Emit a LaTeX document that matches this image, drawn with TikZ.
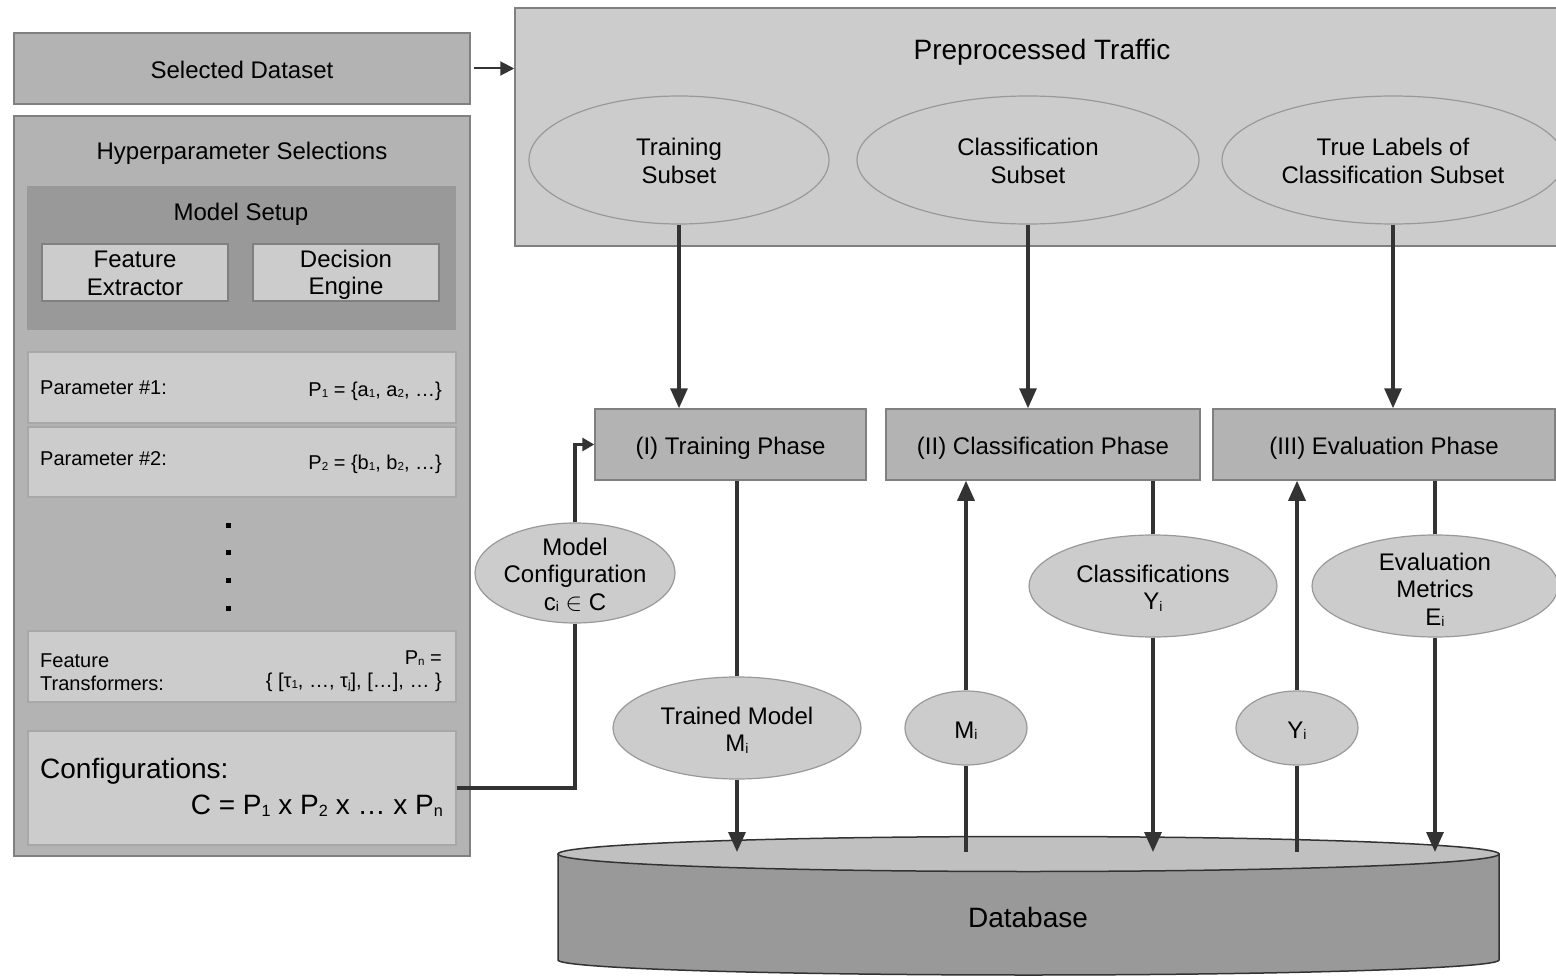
\documentclass[tikz,border=0pt]{standalone}
\usepackage{fontspec}
\usepackage{graphicx}
\setmainfont{Liberation Sans}
\usetikzlibrary{arrows.meta,shapes.geometric,calc}

\definecolor{boxdark}{HTML}{B3B3B3}
\definecolor{boxmid}{HTML}{999999}
\definecolor{boxlight}{HTML}{CCCCCC}
\definecolor{rim}{HTML}{808080}
\definecolor{rimsoft}{HTML}{A8A8A8}
\definecolor{wirec}{HTML}{333333}
\definecolor{dbface}{HTML}{C0C0C0}

% small, slightly lowered index
\newcommand\ix[1]{\raisebox{-0.06em}{\scalebox{0.58}{#1}}}

\tikzset{
  box/.style={draw=rim, line width=1.5pt, inner sep=0pt},
  darkbox/.style={box, fill=boxdark},
  lightbox/.style={box, fill=boxlight},
  parbox/.style={draw=rimsoft, line width=1.5pt, fill=boxlight, inner sep=0pt,
                 minimum width=428pt, minimum height=71pt},
  oval/.style={ellipse, draw=boxmid, line width=1.2pt, fill=boxlight, inner sep=0pt},
  lbl/.style={inner sep=0pt, yshift=-2.5pt},
  txt/.style={lbl, align=center, font=\fontsize{24}{27.5}\selectfont},
  small/.style={lbl, font=\fontsize{20}{23}\selectfont},
  big/.style={lbl, font=\fontsize{28}{32}\selectfont},
  wire/.style={draw=wirec, line width=3.2pt},
  flow/.style={wire, -{Triangle[length=20pt,width=17pt]}},
}

\begin{document}
\begin{tikzpicture}[x=1pt, y=-1pt]
\useasboundingbox (0,0) rectangle (1556,976);
\clip (0,0) rectangle (1556,976);

% ---- left column: dataset and hyperparameters ----
\node[darkbox, minimum width=456pt, minimum height=71pt] (sel) at (242,68.5) {};
\node[txt, yshift=1.5pt] at (sel) {Selected Dataset};

\node[darkbox, minimum width=456pt, minimum height=740pt] (hyp) at (242,486) {};
\node[txt] (hyptitle) at (242,151) {Hyperparameter Selections};

\node[fill=boxmid, inner sep=0pt, minimum width=429pt, minimum height=144pt] (setup) at (241.5,258) {};
\node[txt] (setuptitle) at (241,212) {Model Setup};
\node[lightbox, minimum width=186pt, minimum height=57pt] (fe) at (135,272.5) {};
\node[txt, yshift=1.5pt] at (fe) {Feature\\Extractor};
\node[lightbox, minimum width=186pt, minimum height=57pt] (de) at (346,272.5) {};
\node[txt] at (de) {Decision\\Engine};

\node[parbox] (p1) at (242,387.5) {};
\node[small, anchor=west] (p1l) at (40,385) {Parameter \#1:};
\node[small, anchor=east] (p1r) at (442,389) {P\ix{1} = \{a\ix{1}, a\ix{2}, …\}};

\node[parbox, minimum height=70pt] (p2) at (242,462) {};
\node[small, anchor=west] (p2l) at (40,456) {Parameter \#2:};
\node[small, anchor=east] (p2r) at (442,462) {P\ix{2} = \{b\ix{1}, b\ix{2}, …\}};

\foreach \yy in {525,552,580,608}
  \fill (225.5,{\yy-2.5}) rectangle ++(5,5);

\node[parbox] (pn) at (242,666.5) {};
\node[small, anchor=west, align=left] (pnl) at (40,669.5) {Feature\\Transformers:};
\node[small, anchor=east, align=right] (pnr) at (442,668.5)
  {P\ix{n} =\hspace{6pt}\\\{ [τ\ix{1}, …, τ\ix{j}], […], … \}};

\node[parbox, minimum height=114pt] (conf) at (242,788) {};
\node[big, anchor=west] (confl) at (40,769) {Configurations:};
\node[big, anchor=east] (confr) at (443,803)
  {C = P\ix{1} x P\ix{2} x … x P\ix{n}};

% ---- preprocessed traffic ----
\node[lightbox, minimum width=1055pt, minimum height=238pt] (pre) at (1042.5,127) {};
\node[big] (pretitle) at (1042,50) {Preprocessed Traffic};

\node[oval, minimum width=300pt, minimum height=128pt] (ts) at (679,160) {};
\node[txt, yshift=1.5pt] at (ts) {Training\\Subset};
\node[oval, minimum width=342pt, minimum height=128pt] (cs) at (1028,160) {};
\node[txt, yshift=1.5pt] at (cs) {Classification\\Subset};
\node[oval, minimum width=342pt, minimum height=128pt] (tl) at (1393,160) {};
\node[txt, yshift=1.5pt] at (tl) {True Labels of\\Classification Subset};

% ---- phases ----
\node[darkbox, minimum width=271pt, minimum height=71pt] (tp) at (730.5,444.5) {};
\node[txt, yshift=-1pt] at (tp) {(I) Training Phase};
\node[darkbox, minimum width=314pt, minimum height=71pt] (cp) at (1043,444.5) {};
\node[txt, yshift=-1pt] at (cp) {(II) Classification Phase};
\node[darkbox, minimum width=342pt, minimum height=71pt] (ep) at (1384,444.5) {};
\node[txt, yshift=-1pt] at (ep) {(III) Evaluation Phase};

% ---- intermediate results ----
\node[oval, minimum width=200pt, minimum height=100pt] (mc) at (575,573) {};
\node[txt, yshift=0.5pt] at (mc) {Model\\Configuration\\c\ix{i} $\in$ C};
\node[oval, minimum width=248pt, minimum height=102pt] (tm) at (737,728) {};
\node[txt, yshift=0.5pt] at (tm) {Trained Model\\M\ix{i}};
\node[oval, minimum width=122pt, minimum height=74pt] (mi) at (966,728) {};
\node[txt] at (mi) {M\ix{i}};
\node[oval, minimum width=248pt, minimum height=102pt] (cy) at (1153,586) {};
\node[txt, yshift=0.5pt] at (cy) {Classifications\\Y\ix{i}};
\node[oval, minimum width=122pt, minimum height=74pt] (yi) at (1297,728) {};
\node[txt] at (yi) {Y\ix{i}};
\node[oval, minimum width=246pt, minimum height=102pt] (em) at (1435,586) {};
\node[txt, yshift=-1.5pt] at (em) {Evaluation\\Metrics\\E\ix{i}};

% ---- database cylinder ----
\filldraw[fill=boxmid, draw=wirec, line width=1.5pt]
  (558,854) -- (558,960) arc[start angle=180, end angle=0, x radius=470.5, y radius=15]
  -- (1499,854) -- cycle;
\filldraw[fill=dbface, draw=wirec, line width=1.5pt] (1028.5,854) ellipse [x radius=470.5, y radius=17.5];
\node[big, yshift=1pt] (db) at (1028,916) {Database};
\coordinate (dbtop) at (1028.5,852);

% ---- connectors ----
\draw[wire, line width=2pt, -{Triangle[length=14pt,width=14pt]}]
  ($(sel.east)+(3,0)$) -- (pre.west |- sel.east);
\draw[flow] (ts.south) -- (ts.south |- tp.north);
\draw[flow] (cs.south) -- (cs.south |- cp.north);
\draw[flow] (tl.south) -- (tl.south |- ep.north);

\draw[wire] (conf.east) -| (mc.south);
\draw[wire, -{Triangle[length=12pt,width=13pt]}] (mc.north) |- (tp.west);

\draw[wire] (tm.north |- tp.south) -- (tm.north);
\draw[flow] (tm.south) -- (tm.south |- dbtop);

\draw[wire] (mi.south |- dbtop) -- (mi.south);
\draw[flow] (mi.north) -- (mi.north |- cp.south);

\draw[wire] (cy.north |- cp.south) -- (cy.north);
\draw[flow] (cy.south) -- (cy.south |- dbtop);

\draw[wire] (yi.south |- dbtop) -- (yi.south);
\draw[flow] (yi.north) -- (yi.north |- ep.south);

\draw[wire] (em.north |- ep.south) -- (em.north);
\draw[flow] (em.south) -- (em.south |- dbtop);
\end{tikzpicture}
\end{document}
